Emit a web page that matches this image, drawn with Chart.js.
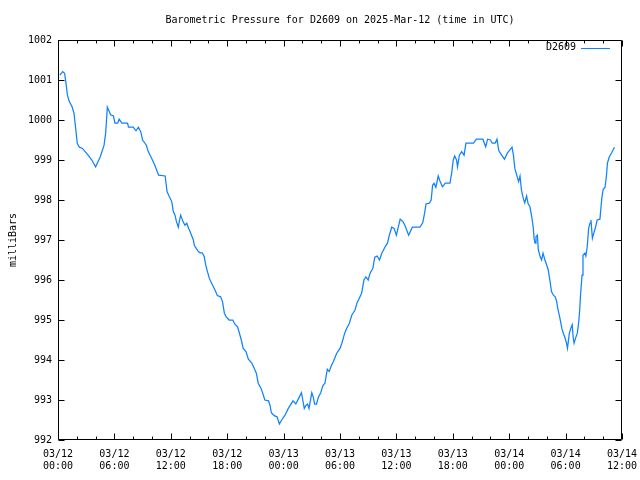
<!DOCTYPE html>
<html>
<head>
<meta charset="utf-8">
<title>Barometric Pressure for D2609</title>
<script src="https://cdn.jsdelivr.net/npm/chart.js@4.4.1/dist/chart.umd.min.js"></script>
<style>
    body { margin: 0; background: #fff; }
    #wrap { width: 640px; height: 480px; }
</style>
</head>
<body>
<div id="wrap"><canvas id="pressure-chart" width="640" height="480"></canvas></div>
<script>
// hours since 03/12 00:00 UTC
var hours = [
    0.2, 0.5, 0.7, 0.85, 1.0, 1.2, 1.5, 1.7, 1.9, 2.05, 2.27, 2.6, 3.2, 3.6, 4.0, 4.5, 4.9, 5.07, 5.25, 5.45,
    5.6, 5.9, 6.06, 6.35, 6.5, 6.8, 7.4, 7.5, 8.0, 8.3, 8.55, 8.8, 9.0, 9.4, 9.6, 9.97, 10.3, 10.7, 11.4, 11.6,
    11.85, 12.1, 12.27, 12.45, 12.6, 12.8, 12.9, 13.05, 13.15, 13.3, 13.5, 13.7, 13.9, 14.05, 14.2, 14.4, 14.5, 14.7, 14.9, 15.1,
    15.35, 15.56, 15.7, 15.9, 16.1, 16.45, 16.7, 16.95, 17.3, 17.5, 17.7, 17.9, 18.2, 18.6, 18.8, 19.1, 19.3, 19.5, 19.7, 20.0,
    20.25, 20.6, 20.8, 21.1, 21.3, 21.6, 21.85, 22.0, 22.4, 22.55, 22.7, 23.0, 23.3, 23.55, 23.8, 24.15, 24.5, 25.0, 25.3, 25.6,
    25.9, 26.0, 26.2, 26.4, 26.55, 26.7, 27.0, 27.15, 27.3, 27.5, 27.7, 27.95, 28.2, 28.4, 28.65, 28.85, 29.1, 29.3, 29.5, 29.65,
    30.0, 30.2, 30.5, 30.7, 31.0, 31.25, 31.6, 31.8, 32.1, 32.3, 32.55, 32.75, 33.0, 33.2, 33.5, 33.7, 33.95, 34.2, 34.45, 34.8,
    35.05, 35.25, 35.5, 35.75, 36.0, 36.4, 36.7, 36.9, 37.3, 37.7, 38.5, 38.8, 39.0, 39.15, 39.5, 39.7, 39.85, 40.0, 40.2, 40.45,
    40.65, 40.9, 41.2, 41.7, 41.9, 42.05, 42.2, 42.4, 42.5, 42.7, 42.95, 43.2, 43.4, 44.2, 44.5, 45.2, 45.5, 45.7, 46.0, 46.2,
    46.5, 46.7, 46.9, 47.2, 47.5, 47.8, 48.3, 48.45, 48.6, 48.8, 49.0, 49.15, 49.3, 49.5, 49.65, 49.85, 50.0, 50.2, 50.4, 50.55,
    50.65, 50.75, 50.85, 51.0, 51.1, 51.3, 51.45, 51.6, 51.8, 52.0, 52.15, 52.35, 52.5, 52.7, 52.9, 53.05, 53.2, 53.4, 53.6, 53.75,
    53.9, 54.1, 54.2, 54.4, 54.55, 54.7, 54.8, 54.9, 55.05, 55.25, 55.4, 55.5, 55.6, 55.75, 55.85, 56.05, 56.15, 56.3, 56.45, 56.6,
    56.7, 56.85, 57.0, 57.2, 57.35, 57.65, 57.85, 58.0, 58.2, 58.35, 58.45, 58.65, 58.9, 59.2
];

// pressure in millibars, one per entry in hours
var pressure = [
    1001.12, 1001.21, 1001.17, 1000.92, 1000.63, 1000.46, 1000.33, 1000.17, 999.75, 999.42, 999.32, 999.29, 999.12, 999.0, 998.83, 999.08, 999.37, 999.67, 1000.32, 1000.21,
    1000.13, 1000.1, 999.92, 999.92, 1000.02, 999.92, 999.92, 999.82, 999.82, 999.73, 999.82, 999.71, 999.5, 999.37, 999.21, 999.04, 998.87, 998.62, 998.6, 998.21,
    998.08, 997.96, 997.71, 997.62, 997.46, 997.32, 997.46, 997.62, 997.56, 997.46, 997.37, 997.42, 997.29, 997.21, 997.12, 997.0, 996.87, 996.79, 996.72, 996.68,
    996.68, 996.58, 996.39, 996.21, 996.04, 995.87, 995.75, 995.61, 995.58, 995.46, 995.17, 995.08, 995.0, 995.0, 994.9, 994.83, 994.67, 994.5, 994.29, 994.21,
    994.02, 993.93, 993.83, 993.67, 993.42, 993.29, 993.12, 993.0, 992.98, 992.87, 992.68, 992.61, 992.58, 992.4, 992.5, 992.62, 992.79, 992.98, 992.9, 993.04,
    993.18, 993.05, 992.79, 992.87, 992.9, 992.79, 993.18, 993.08, 992.9, 992.9, 993.07, 993.18, 993.37, 993.42, 993.77, 993.71, 993.87, 993.96, 994.08, 994.17,
    994.29, 994.42, 994.67, 994.79, 994.92, 995.12, 995.25, 995.42, 995.57, 995.67, 996.0, 996.08, 996.0, 996.17, 996.29, 996.57, 996.6, 996.5, 996.67, 996.83,
    996.92, 997.12, 997.32, 997.29, 997.12, 997.52, 997.46, 997.37, 997.12, 997.32, 997.32, 997.43, 997.67, 997.9, 997.92, 998.0, 998.37, 998.42, 998.32, 998.6,
    998.46, 998.33, 998.42, 998.42, 998.71, 999.0, 999.1, 999.0, 998.83, 999.12, 999.21, 999.12, 999.42, 999.42, 999.52, 999.52, 999.33, 999.52, 999.5, 999.42,
    999.42, 999.52, 999.23, 999.12, 999.02, 999.17, 999.32, 999.12, 998.79, 998.62, 998.46, 998.6, 998.25, 998.04, 997.93, 998.1, 997.92, 997.83, 997.58, 997.33,
    997.04, 996.92, 997.08, 997.12, 996.75, 996.58, 996.5, 996.67, 996.5, 996.37, 996.25, 995.96, 995.71, 995.62, 995.58, 995.46, 995.25, 995.04, 994.79, 994.67,
    994.58, 994.42, 994.29, 994.67, 994.79, 994.88, 994.58, 994.42, 994.54, 994.67, 994.96, 995.25, 995.67, 996.12, 996.62, 996.67, 996.6, 996.83, 997.29, 997.42,
    997.5, 997.04, 997.17, 997.33, 997.5, 997.52, 998.04, 998.27, 998.32, 998.62, 998.92, 999.08, 999.18, 999.32
];

// x tick labels, one every 6 hours
var tickLabels = [
    ["03/12", "00:00"], ["03/12", "06:00"], ["03/12", "12:00"], ["03/12", "18:00"],
    ["03/13", "00:00"], ["03/13", "06:00"], ["03/13", "12:00"], ["03/13", "18:00"],
    ["03/14", "00:00"], ["03/14", "06:00"], ["03/14", "12:00"]
];

var chartTitle = "Barometric Pressure for D2609 on 2025-Mar-12 (time in UTC)";
var yTitle = "milliBars";
var seriesName = "D2609";
var lineColor = "#0f82ff";
var monoFont = "10px 'DejaVu Sans Mono', 'Liberation Mono', monospace";

// gnuplot-like frame, inward ticks, title, y label and legend
var gnuplotFrame = {
    id: 'gnuplotFrame',
    afterDraw: function (chart) {
        var ctx = chart.ctx;
        var area = chart.chartArea;
        var xs = chart.scales.x;
        var ys = chart.scales.y;
        var left = Math.round(area.left) + 0.5;
        var right = Math.round(area.right) - 0.5;
        var top = Math.round(area.top) + 0.5;
        var bottom = Math.round(area.bottom) - 0.5;

        ctx.save();
        ctx.strokeStyle = '#000';
        ctx.lineWidth = 1;
        ctx.beginPath();
        ctx.rect(left, top, right - left, bottom - top);

        // x ticks: major every 6h, minor every 2h, bottom and top
        for (var h = xs.min; h <= xs.max; h += 2) {
            var px = Math.round(xs.getPixelForValue(h)) + 0.5;
            var len = (h % 6 === 0) ? 6 : 3;
            ctx.moveTo(px, bottom);
            ctx.lineTo(px, bottom - len);
            ctx.moveTo(px, top);
            ctx.lineTo(px, top + len);
        }
        // y ticks on both sides
        for (var v = ys.min; v <= ys.max; v += 1) {
            var py = Math.round(ys.getPixelForValue(v)) + 0.5;
            ctx.moveTo(left, py);
            ctx.lineTo(left + 6, py);
            ctx.moveTo(right, py);
            ctx.lineTo(right - 6, py);
        }
        ctx.stroke();

        ctx.fillStyle = '#000';
        ctx.font = monoFont;
        ctx.textBaseline = 'middle';

        ctx.textAlign = 'center';
        ctx.fillText(chartTitle, (area.left + area.right) / 2, 20);

        ctx.save();
        ctx.translate(13, (area.top + area.bottom) / 2);
        ctx.rotate(-Math.PI / 2);
        ctx.fillText(yTitle, 0, 0);
        ctx.restore();

        // legend in the top right corner
        ctx.textAlign = 'right';
        ctx.fillText(seriesName, 576, 47);
        ctx.strokeStyle = lineColor;
        ctx.beginPath();
        ctx.moveTo(581, 48.5);
        ctx.lineTo(610, 48.5);
        ctx.stroke();
        ctx.restore();
    }
};

var points = hours.map(function (h, i) {
    return { x: h, y: pressure[i] };
});

var ctx = document.getElementById('pressure-chart').getContext('2d');
var pressureChart = new Chart(ctx, {
    type: 'line',
    data: {
        datasets: [
            {
                label: seriesName,
                data: points,
                borderColor: lineColor,
                borderWidth: 1.25,
                pointRadius: 0,
                tension: 0,
                fill: false
            }
        ]
    },
    options: {
        responsive: false,
        animation: false,
        events: [],
        layout: {
            padding: { left: 0, top: 40, right: 18, bottom: 0 }
        },
        plugins: {
            legend: { display: false },
            title: { display: false },
            tooltip: { enabled: false }
        },
        scales: {
            x: {
                type: 'linear',
                min: 0,
                max: 60,
                afterFit: function (scale) {
                    scale.height = 40;
                    scale.paddingLeft = 0;   // don't let edge labels shrink the plot
                    scale.paddingRight = 0;
                },
                afterBuildTicks: function (scale) {
                    scale.ticks = tickLabels.map(function (lbl, i) { return { value: i * 6 }; });
                },
                grid: { display: false, drawTicks: false },
                border: { display: false },
                ticks: {
                    padding: 8,
                    maxRotation: 0,
                    autoSkip: false,
                    color: '#000',
                    font: { family: "'DejaVu Sans Mono', monospace", size: 10, lineHeight: 1.26 },
                    callback: function (value) {
                        return tickLabels[Math.round(value / 6)];
                    }
                }
            },
            y: {
                min: 992,
                max: 1002,
                afterFit: function (scale) {
                    scale.width = 58;
                    scale.paddingTop = 0;
                    scale.paddingBottom = 0;
                },
                grid: { display: false, drawTicks: false },
                border: { display: false },
                ticks: {
                    stepSize: 1,
                    padding: 6,
                    color: '#000',
                    font: { family: "'DejaVu Sans Mono', monospace", size: 10 },
                    callback: function (value) {
                        return String(value);
                    }
                }
            }
        }
    },
    plugins: [gnuplotFrame]
});
</script>
</body>
</html>
